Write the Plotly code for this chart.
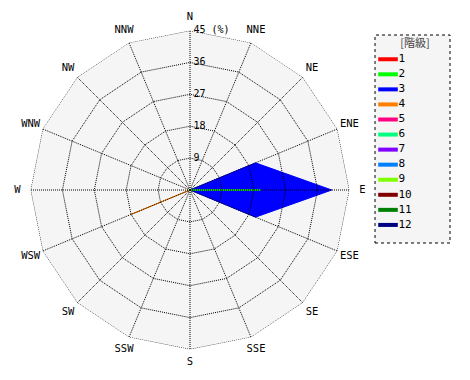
import plotly.graph_objects as go

directions = ["N", "NNE", "NE", "ENE", "E", "ESE", "SE", "SSE",
              "S", "SSW", "SW", "WSW", "W", "WNW", "NW", "NNW"]
classes = ["1", "2", "3", "4", "5", "6", "7", "8", "9", "10", "11", "12"]
colors = ["#ff0000", "#00ff00", "#0000ff", "#ff8000", "#ff0080", "#00ff80",
          "#8000ff", "#0080ff", "#80ff00", "#800000", "#008000", "#000080"]

# frequency (%) per direction for each class
c1 = [0] * 16
c2 = [0, 0, 0, 0, 20, 0, 0, 0, 0, 0, 0, 0, 0, 0, 0, 0]
c3 = [0, 0, 0, 20, 40, 20, 0, 0, 0, 0, 0, 0, 0, 0, 0, 0]
c4 = [0, 0, 0, 0, 0, 0, 0, 0, 0, 0, 0, 18, 0, 0, 0, 0]
c5 = [0] * 16
c6 = [0] * 16
c7 = [0] * 16
c8 = [0] * 16
c9 = [0] * 16
c10 = [0] * 16
c11 = [0] * 16
c12 = [0] * 16
values = [c1, c2, c3, c4, c5, c6, c7, c8, c9, c10, c11, c12]

radial_ticks = [0, 9, 18, 27, 36, 45]
radial_text = ["0", "9", "18", "27", "36", "45 (%)"]
legend_title = "[階級]"

R_MAX = 45
R_OUT = 52          # range of the label ring subplot
FONT = "DejaVu Sans Mono"
GRID_DASH = "1px,1px"
CX, CY, RAD = 190, 190, 159.5
LABEL_GAP = 13      # px between outer polygon and direction label centres
fig = go.Figure()

# data polygons, drawn from class 12 down to class 1
for i in reversed(range(12)):
    if any(v > 0 for v in values[i]):
        fig.add_trace(go.Scatterpolar(
            r=values[i] + [values[i][0]], theta=directions + [directions[0]],
            mode="lines", fill="toself",
            fillcolor=colors[i], line=dict(color=colors[i], width=1),
            showlegend=False, hoverinfo="skip", subplot="polar"))

# outer dotted boundary of the grid overlay
fig.add_trace(go.Scatterpolar(
    r=[R_MAX] * 17, theta=directions + [directions[0]], mode="lines",
    line=dict(color="black", width=1, dash=GRID_DASH),
    showlegend=False, hoverinfo="skip", subplot="polar2"))

# radial tick labels along the N spoke
fig.add_trace(go.Scatterpolar(
    r=radial_ticks, theta=["N"] * len(radial_ticks), mode="markers+text",
    marker=dict(size=4, opacity=0),
    text=radial_text, textposition="middle right",
    textfont=dict(family=FONT, size=10, color="black"),
    cliponaxis=False, showlegend=False, hoverinfo="skip", subplot="polar3"))

# direction labels just outside the outer polygon
fig.add_trace(go.Scatterpolar(
    r=[R_MAX * (1 + LABEL_GAP / RAD)] * 16, theta=directions, mode="text",
    text=directions, textposition="middle center",
    textfont=dict(family=FONT, size=10.5, color="black"),
    cliponaxis=False, showlegend=False, hoverinfo="skip", subplot="polar3"))

# manual legend (class list) in its own cartesian panel
fig.add_trace(go.Scatter(
    x=[13] * 12, y=list(range(1, 13)), mode="markers",
    marker=dict(symbol="line-ew", size=14, line=dict(width=4, color=colors)),
    showlegend=False, hoverinfo="skip", xaxis="x", yaxis="y"))
fig.add_trace(go.Scatter(
    x=[23.5] * 12, y=list(range(1, 13)), mode="text", text=classes,
    textposition="middle right",
    textfont=dict(family=FONT, size=11, color="black"),
    showlegend=False, hoverinfo="skip", cliponaxis=False, xaxis="x", yaxis="y"))
fig.add_trace(go.Scatter(
    x=[40], y=[0], mode="text", text=[legend_title], textposition="middle center",
    textfont=dict(family="Noto Sans CJK JP", size=11, color="#444444"),
    showlegend=False, hoverinfo="skip", cliponaxis=False, xaxis="x", yaxis="y"))

RAD3 = RAD * R_OUT / R_MAX
dom_x = [(CX - RAD) / 470, (CX + RAD) / 470]
dom_y = [(380 - CY - RAD) / 380, (380 - CY + RAD) / 380]
dom3_x = [(CX - RAD3) / 470, (CX + RAD3) / 470]
dom3_y = [(380 - CY - RAD3) / 380, (380 - CY + RAD3) / 380]
leg_x = [375 / 470, 450 / 470]
leg_y = [1 - 243 / 380, 1 - 35 / 380]

common_ang = dict(direction="clockwise", rotation=90, categoryorder="array",
                  categoryarray=directions, type="category")
hidden_ang = dict(showgrid=False, showline=False, showticklabels=False,
                  ticks="", **common_ang)

fig.update_layout(
    width=470, height=380,
    margin=dict(l=0, r=0, t=0, b=0),
    paper_bgcolor="white",
    plot_bgcolor="rgba(0,0,0,0)",
    font=dict(family=FONT, size=11, color="black"),
    showlegend=False,
    polar=dict(
        domain=dict(x=dom_x, y=dom_y),
        gridshape="linear",
        bgcolor="#f5f5f5",
        radialaxis=dict(range=[0, R_MAX], showgrid=False, showline=False,
                        showticklabels=False, ticks=""),
        angularaxis=hidden_ang,
    ),
    polar2=dict(
        domain=dict(x=dom_x, y=dom_y),
        gridshape="linear",
        bgcolor="rgba(0,0,0,0)",
        radialaxis=dict(range=[0, R_MAX], tickvals=radial_ticks,
                        showgrid=True, gridcolor="black", griddash=GRID_DASH,
                        gridwidth=1, showline=False, ticks="", angle=90,
                        showticklabels=False),
        angularaxis=dict(showgrid=True, gridcolor="black", griddash=GRID_DASH,
                         gridwidth=1, showline=False, ticks="",
                         showticklabels=False, **common_ang),
    ),
    polar3=dict(
        domain=dict(x=dom3_x, y=dom3_y),
        gridshape="linear",
        bgcolor="rgba(0,0,0,0)",
        radialaxis=dict(range=[0, R_OUT], showgrid=False, showline=False,
                        showticklabels=False, ticks=""),
        angularaxis=hidden_ang,
    ),
    xaxis=dict(domain=leg_x, range=[0, 75], visible=False, fixedrange=True),
    yaxis=dict(domain=leg_y, range=[13.2, -0.61], visible=False, fixedrange=True),
    shapes=[dict(type="rect", xref="paper", yref="paper",
                 x0=leg_x[0], x1=leg_x[1], y0=leg_y[0], y1=leg_y[1],
                 line=dict(color="black", width=1, dash="dot"),
                 fillcolor="#f5f5f5", layer="below")],
)

fig.write_html("out.html")
